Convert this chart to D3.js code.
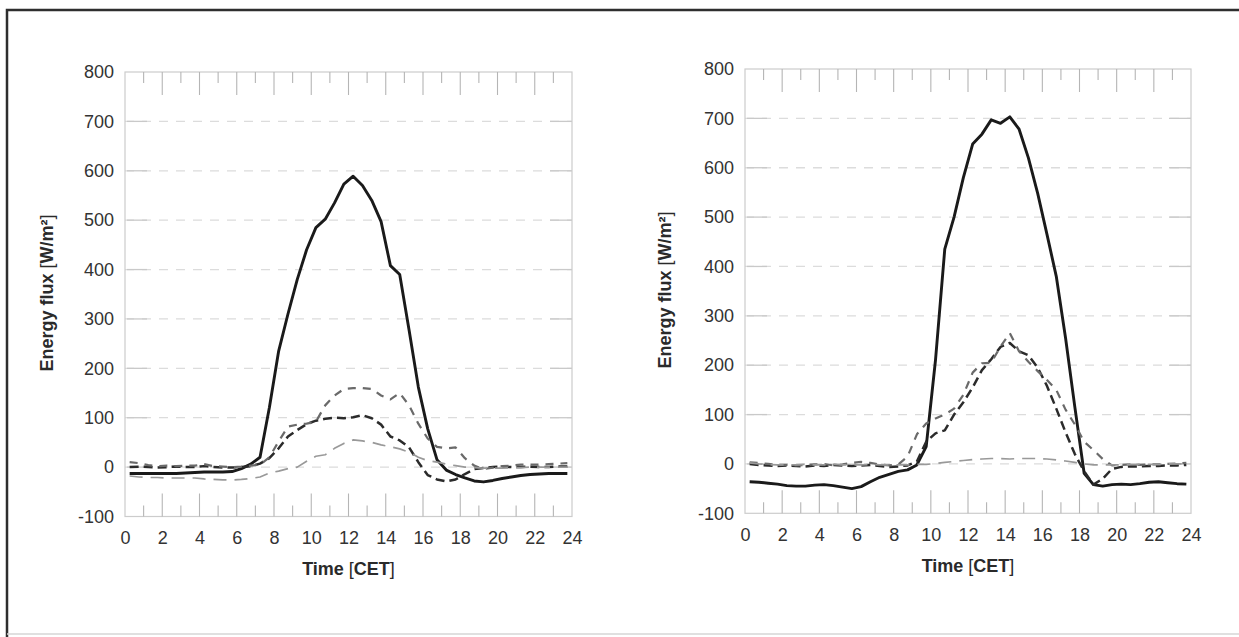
<!DOCTYPE html>
<html>
<head>
<meta charset="utf-8">
<script src="https://cdn.jsdelivr.net/npm/d3@7/dist/d3.min.js"></script>
<style>
html, body { margin:0; background:#fff; overflow:hidden; }
svg { display:block; }
svg text { font-family: "Liberation Sans", Arial, sans-serif; }
</style>
</head>
<body>
<svg id="chart" width="1239" height="637"></svg>
<script>
// half hourly time stamps [h]
var hours = [0.25,0.75,1.25,1.75,2.25,2.75,3.25,3.75,4.25,4.75,5.25,5.75,
             6.25,6.75,7.25,7.75,8.25,8.75,9.25,9.75,10.25,10.75,11.25,11.75,
             12.25,12.75,13.25,13.75,14.25,14.75,15.25,15.75,16.25,16.75,17.25,17.75,
             18.25,18.75,19.25,19.75,20.25,20.75,21.25,21.75,22.25,22.75,23.25,23.75];

// left panel
var leftNet   = [-13,-13,-13,-13,-13,-13,-12,-11,-10,-10,-10,-9,
                 -3,6,20,120,235,310,380,440,485,502,535,573,
                 589,570,540,497,408,390,278,162,78,15,-6,-15,
                 -22,-28,-30,-27,-23,-20,-17,-15,-14,-13,-13,-13];
var leftDark  = [0,1,0,-1,0,1,0,0,2,0,-1,-1,
                 0,2,7,18,38,62,75,87,94,98,100,99,
                 101,105,99,86,62,54,40,10,-16,-25,-29,-25,
                 -14,-4,-2,0,1,0,0,1,0,0,1,1];
var leftMid   = [10,8,4,2,3,2,3,3,6,2,1,0,
                 1,3,5,20,52,82,86,88,92,125,145,158,
                 160,160,158,145,137,150,125,88,58,41,38,40,
                 18,3,-4,-1,2,3,5,5,5,6,7,8];
var leftLight = [-18,-20,-21,-21,-22,-22,-22,-22,-24,-25,-26,-26,
                 -25,-23,-20,-12,-8,-3,0,12,22,25,38,48,
                 55,53,50,45,41,37,30,20,13,10,6,3,
                 0,-1,-2,-2,-2,-1,-1,0,0,0,0,0];

// right panel
var rightNet   = [-36,-37,-39,-41,-44,-45,-45,-43,-42,-44,-47,-50,
                  -46,-36,-27,-21,-15,-12,-2,35,210,435,500,580,
                  648,668,697,690,703,678,620,548,465,380,255,115,
                  -19,-42,-45,-42,-41,-42,-40,-37,-36,-38,-40,-41];
var rightDark  = [0,-2,-3,-4,-3,-4,-5,-3,-4,-2,-3,-4,
                  -3,-2,-4,-6,-5,-3,5,45,62,68,100,125,
                  155,190,212,237,245,228,220,195,158,112,64,20,
                  -15,-42,-30,-10,-6,-5,-5,-4,-4,-3,-3,-2];
var rightMid   = [3,2,0,-2,-2,-3,-2,-1,0,-3,-1,2,
                  4,2,-1,-3,-1,15,60,82,92,100,112,140,
                  185,204,205,238,265,228,207,188,170,150,110,80,
                  45,28,10,-3,-2,-1,-2,-1,-1,0,1,2];
var rightLight = [2,0,-1,-2,-2,-2,-1,-2,-2,-1,-2,-2,
                  -2,-1,-2,-2,-2,-2,-1,-1,1,3,5,7,
                  9,10,11,11,10,11,11,11,10,8,6,3,
                  0,-2,-2,-2,-2,-1,-1,-1,-1,0,0,0];

var yTicks = [-100,0,100,200,300,400,500,600,700,800];
var gridValues = [0,100,200,300,400,500,600,700];
var xTicks = [0,2,4,6,8,10,12,14,16,18,20,22,24];
var hourTicks = [1,2,3,4,5,6,7,8,9,10,11,12,13,14,15,16,17,18,19,20,21,22,23];

// line styles: solid, dark dash, medium dash, light long dash
var styles = [
  {color:"#1a1a1a", width:2.9, dash:null},
  {color:"#2b2b2b", width:2.5, dash:"9,5"},
  {color:"#6a6a6a", width:2.2, dash:"8,7"},
  {color:"#999999", width:1.7, dash:"13,8"}
];

var svg = d3.select("#chart");

// outer frame (top + left dark, bottom faint)
svg.append("path")
  .attr("d","M7,640 L7,10 L1239,10")
  .attr("fill","none").attr("stroke","#2e2e2e").attr("stroke-width",2.5);
svg.append("line")
  .attr("x1",7).attr("x2",1239).attr("y1",634).attr("y2",634)
  .attr("stroke","#d6d6d6").attr("stroke-width",1.5);

function drawPanel(box, series){
  var w = box.right - box.left;
  var h = box.bottom - box.top;
  var x = d3.scaleLinear().domain([0,24]).range([0,w]);
  var y = d3.scaleLinear().domain([-100,800]).range([h,0]);

  var g = svg.append("g")
    .attr("transform","translate(" + box.left + "," + box.top + ")");

  // dashed gridlines
  g.selectAll(".grid").data(gridValues).enter().append("line")
    .attr("x1",0).attr("x2",w)
    .attr("y1",function(d){return y(d);}).attr("y2",function(d){return y(d);})
    .attr("stroke","#dcdcdc").attr("stroke-width",1.3)
    .attr("stroke-dasharray","9,8");
  // short solid stubs at both ends of gridlines
  g.selectAll(".stubL").data(gridValues).enter().append("line")
    .attr("x1",2).attr("x2",22)
    .attr("y1",function(d){return y(d);}).attr("y2",function(d){return y(d);})
    .attr("stroke","#c9c9c9").attr("stroke-width",1.3);
  g.selectAll(".stubR").data(gridValues).enter().append("line")
    .attr("x1",w-22).attr("x2",w)
    .attr("y1",function(d){return y(d);}).attr("y2",function(d){return y(d);})
    .attr("stroke","#c9c9c9").attr("stroke-width",1.3);

  g.append("rect")
    .attr("width",w).attr("height",h)
    .attr("fill","none").attr("stroke","#cccccc").attr("stroke-width",1.2);

  // hour ticks, top and bottom, long on even hours
  g.selectAll(".tickTop").data(hourTicks).enter().append("line")
    .attr("x1",function(d){return x(d);}).attr("x2",function(d){return x(d);})
    .attr("y1",0).attr("y2",function(d){return d%2 ? 11 : 23;})
    .attr("stroke","#b5b5b5").attr("stroke-width",1.1);
  g.selectAll(".tickBot").data(hourTicks).enter().append("line")
    .attr("x1",function(d){return x(d);}).attr("x2",function(d){return x(d);})
    .attr("y1",h).attr("y2",function(d){return h - (d%2 ? 11 : 23);})
    .attr("stroke","#b5b5b5").attr("stroke-width",1.1);

  // tick labels (plain hyphen for negatives)
  var fmt = function(d){ return String(d); };
  var ya = g.append("g")
    .call(d3.axisLeft(y).tickValues(yTicks).tickFormat(fmt).tickSize(0).tickPadding(11));
  var xa = g.append("g")
    .attr("transform","translate(0," + h + ")")
    .call(d3.axisBottom(x).tickValues(xTicks).tickFormat(fmt).tickSize(0).tickPadding(15));
  [ya, xa].forEach(function(a){
    a.select(".domain").remove();
    a.attr("font-size",18).attr("font-family","Liberation Sans, Arial, sans-serif")
     .attr("color","#333333");
  });

  // series lines
  var line = d3.line()
    .x(function(d,i){return x(hours[i]);})
    .y(function(d){return y(d);});
  series.forEach(function(s, i){
    var st = styles[i];
    g.append("path")
      .datum(s)
      .attr("d", line)
      .attr("fill","none")
      .attr("stroke", st.color)
      .attr("stroke-width", st.width)
      .attr("stroke-linejoin","round")
      .attr("stroke-dasharray", st.dash);
  });

  // axis titles
  var xt = svg.append("text")
    .attr("x", box.left + w/2).attr("y", box.xTitleY)
    .attr("text-anchor","middle")
    .attr("font-size",18).attr("fill","#2a2a2a").attr("font-weight","bold");
  xt.append("tspan").text("Time ");
  xt.append("tspan").attr("font-weight","normal").text("[");
  xt.append("tspan").text("CET");
  xt.append("tspan").attr("font-weight","normal").text("]");

  var yt = svg.append("text")
    .attr("transform","translate(" + box.yTitleX + "," + box.yTitleY + ") rotate(-90)")
    .attr("text-anchor","middle")
    .attr("font-size",18).attr("fill","#2a2a2a").attr("font-weight","bold");
  yt.append("tspan").text("Energy flux ");
  yt.append("tspan").attr("font-weight","normal").text("[");
  yt.append("tspan").text("W/m²");
  yt.append("tspan").attr("font-weight","normal").text("]");
}

drawPanel({left:125, right:572, top:72, bottom:516.5, xTitleY:575, yTitleX:53, yTitleY:293},
          [leftNet, leftDark, leftMid, leftLight]);
drawPanel({left:745, right:1191, top:69, bottom:513.3, xTitleY:572, yTitleX:671, yTitleY:290},
          [rightNet, rightDark, rightMid, rightLight]);
</script>
</body>
</html>
